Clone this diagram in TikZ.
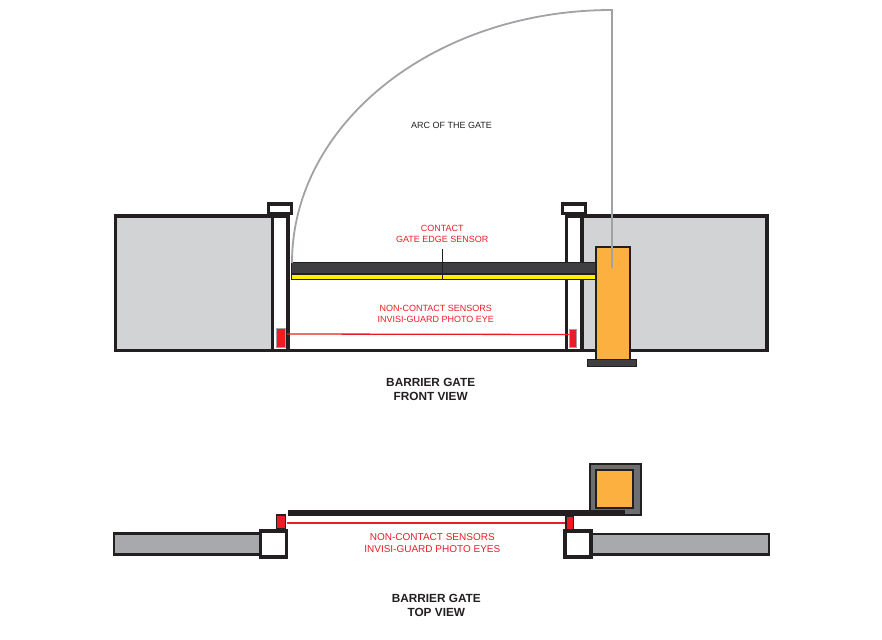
\documentclass[tikz,border=0pt]{standalone}
\usepackage{fontspec}
\setmainfont{Liberation Sans}

\definecolor{linedark}{HTML}{231F20}
\definecolor{wallgrey}{HTML}{D1D3D4}
\definecolor{slabgrey}{HTML}{A7A9AC}
\definecolor{arcgrey}{HTML}{A0A2A5}
\definecolor{beamgrey}{HTML}{3F3F41}
\definecolor{housegrey}{HTML}{6D6E71}
\definecolor{gateorange}{HTML}{FBB040}
\definecolor{edgeyellow}{HTML}{FFF200}
\definecolor{sensorred}{HTML}{ED1C24}

\tikzset{
	part/.style={rectangle, draw=linedark, inner sep=0pt, outer sep=0pt, line width=3.4pt},
	wall/.style={part, fill=wallgrey},
	slab/.style={part, fill=slabgrey, line width=2.6pt},
	post/.style={part, fill=white},
	cabinet/.style={part, fill=gateorange, line width=2pt},
	beam/.style={part, fill=beamgrey, line width=1.2pt},
	eye/.style={part, fill=sensorred, draw=arcgrey, line width=1pt},
	topeye/.style={eye, draw=linedark, line width=1.4pt},
	redline/.style={draw=sensorred, line width=1.3pt},
	greyline/.style={draw=arcgrey, line width=1.8pt},
	redtext/.style={text=sensorred, align=center, inner sep=0pt, font=\fontsize{9}{10.9}\selectfont},
	bigred/.style={redtext, font=\fontsize{10}{12.3}\selectfont},
	title/.style={text=linedark, align=center, inner sep=0pt, font=\fontsize{11.8}{14.2}\selectfont\bfseries}
}

\begin{document}
\begin{tikzpicture}[x=1pt, y=-1pt]
	\useasboundingbox (0,0) rectangle (882,639);
	% front view
	\node[wall, minimum width=157pt, minimum height=134.5pt] (lwall) at (194,283.2) {};
	\node[wall, minimum width=185pt, minimum height=134.5pt] (rwall) at (674.5,283.2) {};
	\node[post, minimum width=15.5pt, minimum height=134.5pt] (lpost) at (280.2,283.2) {};
	\node[post, minimum width=15.5pt, minimum height=134.5pt] (rpost) at (574.2,283.2) {};
	\node[post, minimum width=22.5pt, minimum height=9.5pt] (lcap) at (280,208.7) {};
	\node[post, minimum width=22.5pt, minimum height=9.5pt] (rcap) at (574,208.7) {};
	\draw[part] (lpost.south east) -- (rpost.south west);
	\node[eye, minimum width=8.5pt, minimum height=19pt] (leye) at (281.2,338.4) {};
	\node[eye, minimum width=7pt, minimum height=18.5pt] (reye) at (572.8,338.6) {};
	\coordinate (lbeam) at (287,334);
	\coordinate (rbeam) at (569,334.5);
	\draw[redline] (lbeam) -- (rbeam);
	% gate
	\node[beam, minimum width=304pt, minimum height=10.5pt] (gate) at (443.5,268) {};
	\node[beam, fill=edgeyellow, line width=0.9pt, minimum width=304pt, minimum height=5.4pt] (edge) at (443.5,276.7) {};
	\node[cabinet, minimum width=34pt, minimum height=113pt] (gatepost) at (612.5,303.5) {};
	\node[beam, minimum width=49pt, minimum height=7pt] (foot) at (612,363) {};
	\coordinate (arcstart) at (292,263);
	\coordinate (arctop) at (612,10);
	\coordinate (pivot) at (612,268);
	\draw[greyline] (arcstart) .. controls (292,123) and (435,10) .. (arctop) -- (pivot);
	% labels
	\node (arclabel) at (451.5,125.8) {\fontsize{9}{11}\selectfont\color{linedark}ARC OF THE GATE};
	\node[redtext] (contact) at (442.3,234) {CONTACT\\GATE EDGE SENSOR};
	\coordinate (edgepoint) at (442,278.5);
	\coordinate (leadtop) at (442,249);
	\draw[draw=linedark, line width=0.8pt] (leadtop) -- (edgepoint);
	\node[redtext] (frontnote) at (435.8,314.2) {NON-CONTACT SENSORS\\INVISI-GUARD PHOTO EYE};
	\node[title] (fronttitle) at (430.7,389.8) {BARRIER GATE\\FRONT VIEW};
	% top view
	\node[slab, minimum width=146pt, minimum height=21pt] (lslab) at (187,544) {};
	\node[slab, minimum width=177pt, minimum height=20.5pt] (rslab) at (680.5,544.2) {};
	\node[post, minimum width=26pt, minimum height=26pt] (lsquare) at (273.5,544) {};
	\node[post, minimum width=26pt, minimum height=26pt] (rsquare) at (578,544) {};
	\node[part, fill=housegrey, line width=1.6pt, minimum width=51pt, minimum height=51.5pt] (housing) at (615.3,489.5) {};
	\node[cabinet, minimum width=37pt, minimum height=38.5pt] (topcabinet) at (614.5,489) {};
	\node[rectangle, fill=linedark, inner sep=0pt, outer sep=0pt, minimum width=337pt, minimum height=5.7pt] (topgate) at (456.5,512.9) {};
	\node[topeye, minimum width=8.5pt, minimum height=14pt] (ltopeye) at (281,522) {};
	\node[topeye, minimum width=7.5pt, minimum height=13pt] (rtopeye) at (569.6,522.8) {};
	\coordinate (ltopbeam) at (287,523);
	\coordinate (rtopbeam) at (565,523);
	\draw[redline] (ltopbeam) -- (rtopbeam);
	\node[bigred] (topnote) at (432.3,543) {NON-CONTACT SENSORS\\INVISI-GUARD PHOTO EYES};
	\node[title] (toptitle) at (436.3,605.8) {BARRIER GATE\\TOP VIEW};
\end{tikzpicture}
\end{document}
